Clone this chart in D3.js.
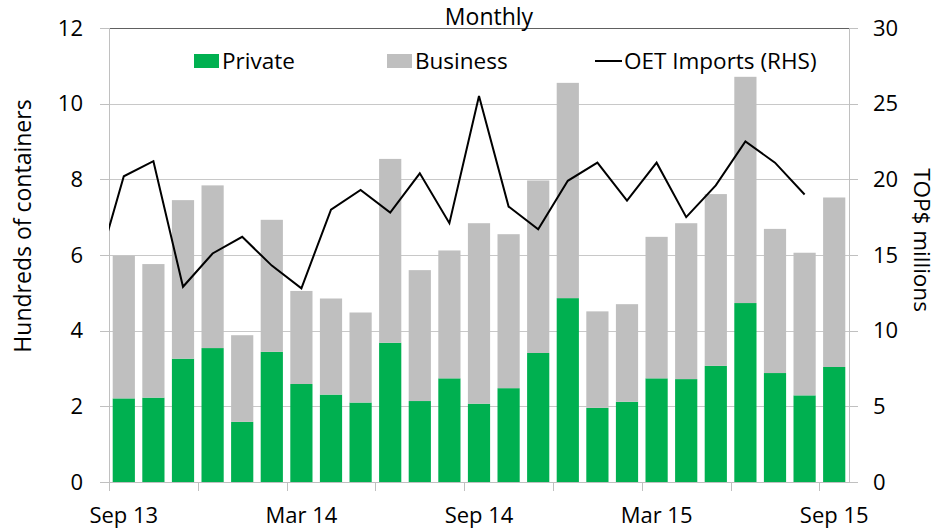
<!DOCTYPE html>
<head>
  <meta charset="utf-8">
  <script src="https://d3js.org/d3.v7.min.js"></script>
  <style>
    body { margin:0; background:#fff; }
    svg text { font-family: "Open Sans", sans-serif; fill:#000; }
    .grid line { stroke:#c8c8c8; stroke-width:1; }
    .axis path, .axis line { stroke:#c0c0c0; fill:none; shape-rendering:crispEdges; }
    .axis text { font-size:22px; }
  </style>
</head>
<body>
  <svg id="chart" width="940" height="529"></svg>
  <script>
  // categories: Sep 13 .. Sep 15
  var months = ["Sep 13","Oct 13","Nov 13","Dec 13","Jan 14","Feb 14","Mar 14","Apr 14","May 14",
    "Jun 14","Jul 14","Aug 14","Sep 14","Oct 14","Nov 14","Dec 14","Jan 15","Feb 15","Mar 15",
    "Apr 15","May 15","Jun 15","Jul 15","Aug 15","Sep 15"];
  var xLabels = ["Sep 13","Mar 14","Sep 14","Mar 15","Sep 15"];

  // hundreds of containers
  var privateVals = [2.21,2.23,3.26,3.54,1.59,3.44,2.59,2.31,2.10,3.68,2.14,2.74,2.07,
    2.48,3.41,4.86,1.96,2.12,2.74,2.72,3.07,4.73,2.88,2.29,3.04];
  var totalVals = [5.98,5.76,7.45,7.84,3.88,6.93,5.05,4.85,4.48,8.54,5.60,6.12,6.84,
    6.55,7.97,10.55,4.51,4.70,6.48,6.84,7.61,10.71,6.69,6.06,7.52];
  var businessVals = totalVals.map(function(t, i) { return +(t - privateVals[i]).toFixed(2); });

  // OET imports, TOP$ millions (first value is Aug 13, clipped at the plot edge; no Sep 15 value)
  var importVals = [13.4,20.2,21.2,12.9,15.1,16.2,14.3,12.8,18.0,19.3,17.8,20.4,17.1,25.5,
    18.2,16.7,19.9,21.1,18.6,21.1,17.5,19.6,22.5,21.1,19.0];

  var leftTicks = [0,2,4,6,8,10,12];
  var rightTicks = [0,5,10,15,20,25,30];

  var plotLeft = 109, plotRight = 849, plotTop = 28, plotBottom = 482;
  var svg = d3.select("#chart");

  var x = d3.scaleBand().domain(months).range([plotLeft, plotRight]).paddingInner(0.25).paddingOuter(0.125);
  var xi = d3.scaleLinear().domain([-0.5, months.length - 0.5]).range([plotLeft, plotRight]);
  var y = d3.scaleLinear().domain([0, 12]).range([plotBottom, plotTop]);
  var y2 = d3.scaleLinear().domain([0, 30]).range([plotBottom, plotTop]);

  // gridlines
  svg.append("g").attr("class", "grid")
    .selectAll("line").data(leftTicks.slice(1, -1)).enter().append("line")
    .attr("x1", plotLeft).attr("x2", plotRight)
    .attr("y1", function(d) { return Math.round(y(d)) + 0.5; })
    .attr("y2", function(d) { return Math.round(y(d)) + 0.5; });
  svg.append("line")
    .attr("x1", plotLeft).attr("x2", plotRight)
    .attr("y1", Math.round(y(12)) + 0.5).attr("y2", Math.round(y(12)) + 0.5)
    .attr("stroke", "#606060");

  // bars
  var bars = svg.append("g");
  bars.selectAll(".priv").data(months).enter().append("rect")
    .attr("x", function(d) { return x(d); })
    .attr("width", x.bandwidth())
    .attr("y", function(d, i) { return y(privateVals[i]); })
    .attr("height", function(d, i) { return y(0) - y(privateVals[i]); })
    .attr("fill", "#00b050");
  bars.selectAll(".bus").data(months).enter().append("rect")
    .attr("x", function(d) { return x(d); })
    .attr("width", x.bandwidth())
    .attr("y", function(d, i) { return y(privateVals[i] + businessVals[i]); })
    .attr("height", function(d, i) { return y(privateVals[i]) - y(privateVals[i] + businessVals[i]); })
    .attr("fill", "#bfbfbf");

  // axes
  var yAxis = d3.axisLeft(y).tickValues(leftTicks).tickSize(9).tickPadding(17);
  svg.append("g").attr("class", "axis").attr("transform", "translate(" + plotLeft + ",0)").call(yAxis)
    .select(".domain").attr("d", "M0.5," + plotTop + "V" + plotBottom);
  var y2Axis = d3.axisRight(y2).tickValues(rightTicks).tickSize(9).tickPadding(15);
  svg.append("g").attr("class", "axis").attr("transform", "translate(" + plotRight + ",0)").call(y2Axis)
    .select(".domain").attr("d", "M0.5," + plotTop + "V" + plotBottom);

  var xTickIdx = d3.range(0, months.length, 3);
  var xg = svg.append("g").attr("class", "axis");
  xg.append("line").attr("x1", plotLeft).attr("x2", plotRight)
    .attr("y1", Math.round(plotBottom) + 0.5).attr("y2", Math.round(plotBottom) + 0.5);
  xg.selectAll(".tk").data(xTickIdx).enter().append("line")
    .attr("x1", function(i) { return Math.round(xi(i - 0.5)) + 0.5; })
    .attr("x2", function(i) { return Math.round(xi(i - 0.5)) + 0.5; })
    .attr("y1", plotBottom).attr("y2", plotBottom + 9);
  xg.selectAll("text").data(xLabels).enter().append("text")
    .attr("x", function(d) { return x(d) + x.bandwidth() / 2; })
    .attr("y", 523)
    .attr("text-anchor", "middle")
    .text(function(d) { return d; });

  // line (RHS)
  svg.append("clipPath").attr("id", "plotclip").append("rect")
    .attr("x", plotLeft).attr("y", 0).attr("width", plotRight - plotLeft).attr("height", plotBottom);
  var line = d3.line()
    .x(function(d, i) { return xi(i - 1); })
    .y(function(d) { return y2(d); });
  svg.append("path")
    .attr("d", line(importVals))
    .attr("clip-path", "url(#plotclip)")
    .attr("fill", "none").attr("stroke", "#000").attr("stroke-width", 2)
    .attr("stroke-linejoin", "miter");

  // titles
  svg.append("text").attr("x", 489).attr("y", 25).attr("text-anchor", "middle")
    .style("font-size", "23px").text("Monthly");
  svg.append("text").attr("transform", "translate(31,226) rotate(-90)").attr("text-anchor", "middle")
    .style("font-size", "23px").text("Hundreds of containers");
  svg.append("text").attr("transform", "translate(914,240) rotate(90)").attr("text-anchor", "middle")
    .style("font-size", "22.5px").text("TOP$ millions");

  // legend
  var lg = svg.append("g").style("font-size", "22.5px");
  lg.append("rect").attr("x", 194).attr("y", 54).attr("width", 25).attr("height", 14).attr("fill", "#00b050");
  lg.append("text").attr("x", 222).attr("y", 69).text("Private");
  lg.append("rect").attr("x", 387).attr("y", 54).attr("width", 25).attr("height", 14).attr("fill", "#bfbfbf");
  lg.append("text").attr("x", 415).attr("y", 69).text("Business");
  lg.append("line").attr("x1", 595).attr("x2", 622).attr("y1", 61).attr("y2", 61)
    .attr("stroke", "#000").attr("stroke-width", 2);
  lg.append("text").attr("x", 624).attr("y", 69).text("OET Imports (RHS)");
  </script>
</body>
